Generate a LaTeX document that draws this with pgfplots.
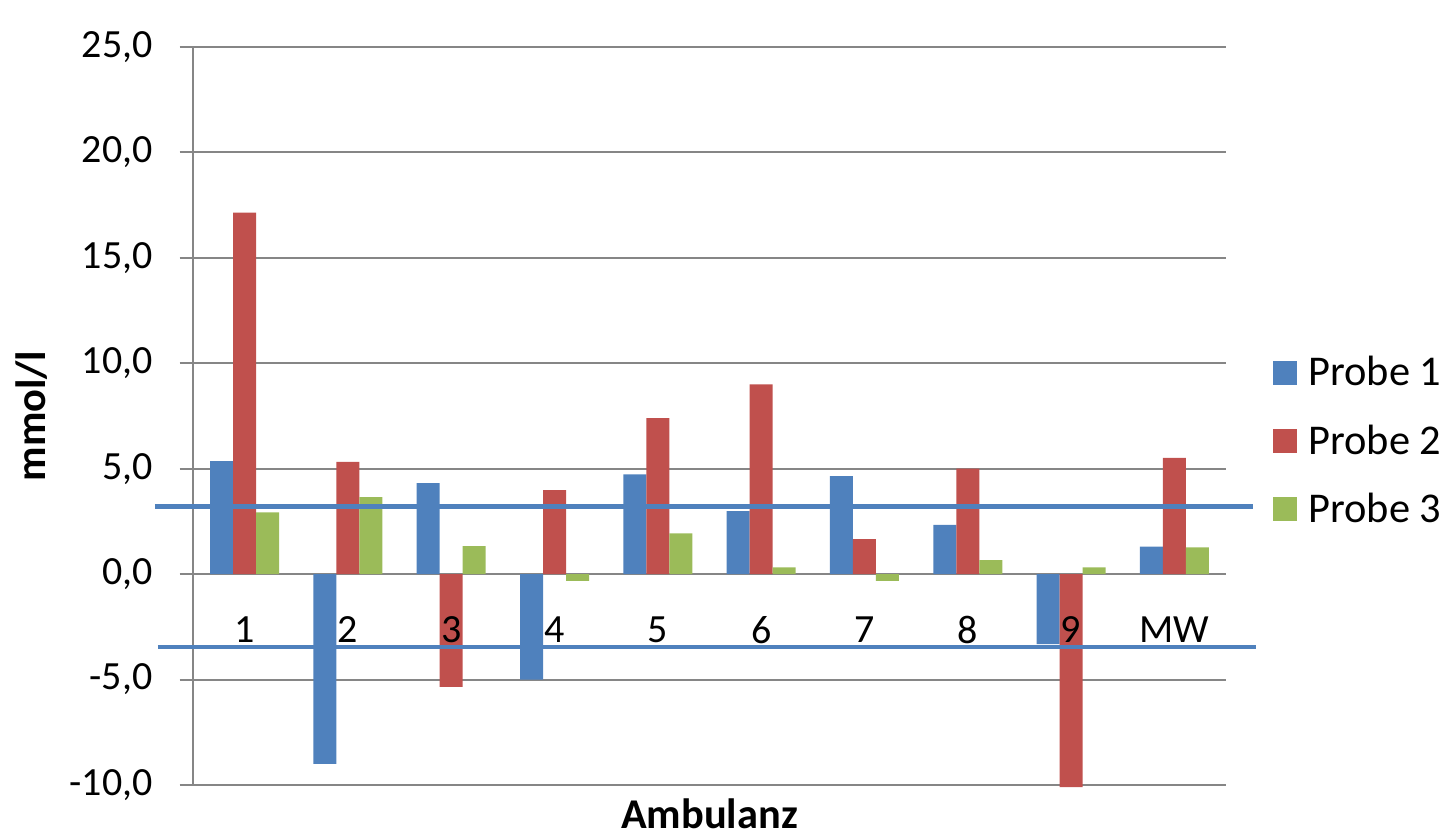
\documentclass[border=0pt]{standalone}
\usepackage{fontspec}
\setmainfont{Carlito}
\usepackage{pgfplots}
\usepackage{pgfplotstable}
\pgfplotsset{compat=1.18}

\definecolor{pblue}{HTML}{4F81BD}
\definecolor{pred}{HTML}{C0504D}
\definecolor{pgreen}{HTML}{9BBB59}
\definecolor{gridgray}{HTML}{868686}

\pgfplotsset{
  sqlegend/.style={legend image code/.code={\fill[##1] (0pt,-6pt) rectangle (12pt,6pt);}},
  % Achsenbeschriftung über den Balken
  layers/labels on top/.define layer set={axis background,axis grid,axis ticks,axis lines,pre main,main,axis tick labels,axis descriptions,axis foreground}{/pgfplots/layers/standard},
}

% Abweichungen je Ambulanz (mmol/l), Spalte x = Kategorieposition
\pgfplotstableread{
x    p1     p2      p3
0    5.36   17.15   2.93
1   -9.00    5.32   3.65
2    4.32   -5.35   1.33
3   -5.00    3.99  -0.32
4    4.73    7.40   1.93
5    2.99    9.00   0.32
6    4.65    1.66  -0.32
7    2.34    5.00   0.66
8   -3.32  -10.10   0.32
9    1.30    5.52   1.27
}\messwerte

\begin{document}
\begin{tikzpicture}
\begin{axis}[
  set layers=labels on top,
  scale only axis, width=516.5pt, height=369pt,
  font=\fontsize{20}{24}\selectfont,
  ybar=0pt, bar width=11.5pt,
  xmin=-0.5, xmax=9.5, ymin=-10, ymax=25,
  xtick={0,...,9},
  xticklabels={1,2,3,4,5,6,7,8,9,MW},
  ytick={-10,-5,...,25},
  axis x line*=middle, axis y line*=left,
  hide obscured x ticks=false, hide obscured y ticks=false,
  axis line style={gridgray, line width=1pt},
  ymajorgrids, grid style={gridgray, line width=1pt},
  xtick style={draw=none},
  ytick style={gridgray, line width=1pt},
  tick align=outside, major tick length=6.7pt,
  yticklabel style={xshift=-10pt, /pgf/number format/.cd, fixed, fixed zerofill, precision=1, use comma, assume math mode=true},
  xticklabel style={yshift=-11pt},
  every axis y label/.style={at={([xshift=-80.5pt]rel axis cs:0,0.5)}, anchor=center, rotate=90, font=\fontsize{21.2}{25}\selectfont\bfseries},
  every axis x label/.style={at={([yshift=-21.5pt]rel axis cs:0.5,0)}, anchor=base, inner sep=0pt, font=\fontsize{21.2}{25}\selectfont\bfseries},
  ylabel={mmol/l},
  xlabel={Ambulanz},
  clip=false,
  legend cell align=left,
  legend style={draw=none, fill=none, inner sep=0pt,
    at={([xshift=23.5pt]rel axis cs:1,0.4661)}, anchor=west,
    row sep=14pt,
    /tikz/every odd column/.append style={column sep=3.5pt},
    font=\fontsize{21.2}{25}\selectfont},
]
\addplot[fill=pblue, draw=none, sqlegend] table[x=x, y=p1] {\messwerte};
\addplot[fill=pred, draw=none, sqlegend] table[x=x, y=p2] {\messwerte};
\addplot[fill=pgreen, draw=none, sqlegend] table[x=x, y=p3] {\messwerte};
\legend{Probe 1, Probe 2, Probe 3}
% Grenzlinien
\addplot[sharp plot, pblue, line width=2.3pt, forget plot] coordinates {(-0.868,3.21) (9.761,3.21)};
\addplot[sharp plot, pblue, line width=2.3pt, forget plot] coordinates {(-0.839,-3.46) (9.79,-3.46)};
\coordinate (sw) at (rel axis cs:0,0);
\end{axis}
\pgfresetboundingbox
\path[use as bounding box] ([xshift=-96.5pt,yshift=-26pt]sw) rectangle ([xshift=629pt,yshift=392.5pt]sw);
\end{tikzpicture}
\end{document}
